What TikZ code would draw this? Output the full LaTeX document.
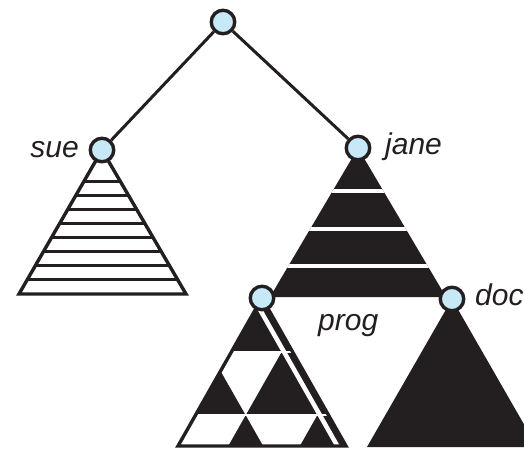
\documentclass[tikz,border=0pt]{standalone}
\usepackage{fontspec}
\setmainfont{Liberation Sans}
\definecolor{ink}{RGB}{35,31,32}
\definecolor{nodeblue}{RGB}{198,232,247}
\tikzset{
  vert/.style={circle, draw=ink, fill=nodeblue, line width=3.4pt, minimum size=23.5pt, inner sep=0pt},
  lbl/.style={font=\itshape\fontsize{30}{30}\selectfont, text=ink, inner sep=0pt},
  edge/.style={draw=ink, line width=3pt},
  outline/.style={draw=ink, line width=3.4pt, line join=miter},
  gap/.style={draw=white, line width=4pt},
  thin gap/.style={draw=white, line width=1.2pt}
}
\begin{document}
\begin{tikzpicture}[x=1pt,y=-1pt]
\useasboundingbox (0,0) rectangle (524,449);

% sue: striped outline triangle
\begin{scope}
  \clip (102,150) -- (19,294) -- (186,294) -- cycle;
  \foreach \k in {1,...,8}
    \draw[ink, line width=3pt] (0,294-14.125*\k) -- (200,294-14.125*\k);
\end{scope}
\draw[outline] (102,150) -- (19,294) -- (186,294) -- cycle;

% jane: black triangle with white bands
\fill[ink] (358,148) -- (270,297) -- (446,297) -- cycle;
\begin{scope}
  \clip (358,148) -- (270,297) -- (446,297) -- cycle;
  \foreach \y in {191,229,266}
    \draw[gap] (250,\y) -- (470,\y);
\end{scope}

% doc: solid black triangle
\fill[ink] (452,299) -- (367,447) -- (537,447) -- cycle;

% prog: checkered triangle
\begin{scope}
  \clip (262,298) -- (178,446) -- (346,446) -- cycle;
  \fill[ink] (150,290) rectangle (360,450);
  \fill[white] (200,352) -- (281.5,352) -- (245.7,415) -- (220.6,370.9) -- cycle;
  \fill[white] (150,415) -- (245.7,415) -- (228.1,446) -- (150,446) -- cycle;
  \fill[white] (245.7,415) -- (317.3,415) -- (299.7,446) -- (263.3,446) -- cycle;
  \draw[thin gap] (150,352) -- (360,352);
  \draw[thin gap] (150,415) -- (360,415);
  \draw[white, line width=4.5pt] (253.4,298) -- (337.4,446);
\end{scope}
\draw[outline] (262,298) -- (178,446) -- (346,446) -- cycle;

% vertices
\node[vert] (root) at (223,22) {};
\node[vert] (sue) at (102,150) {};
\node[vert] (jane) at (358,148) {};
\node[vert] (prog) at (262,298) {};
\node[vert] (doc) at (452,299) {};

\draw[edge] (root) -- (sue);
\draw[edge] (root) -- (jane);

% labels
\node[lbl, anchor=base east] (tsue) at (79,158) {sue};
\node[lbl, anchor=base west] (tjane) at (385,155) {jane};
\node[lbl, anchor=base west] (tprog) at (318,330) {prog};
\node[lbl, anchor=base west] (tdoc) at (475,305) {doc};
\end{tikzpicture}
\end{document}
